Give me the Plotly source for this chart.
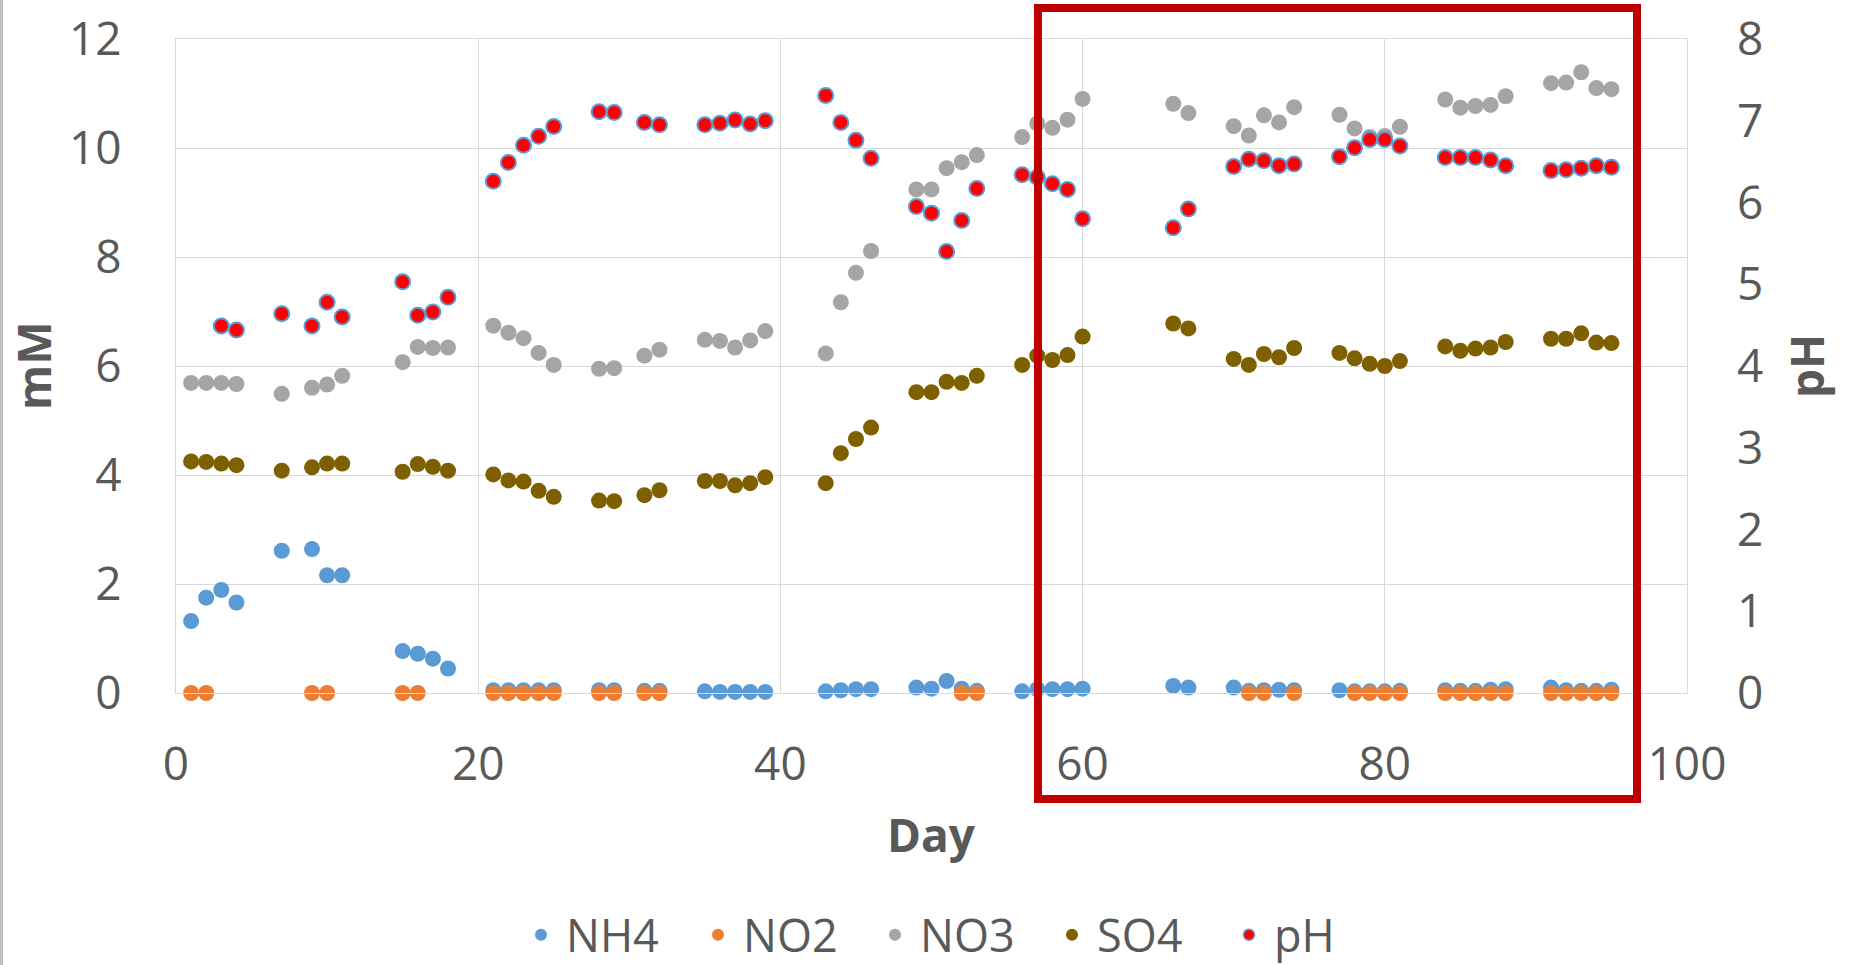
import plotly.graph_objects as go

# Sampling days and measured concentrations (mM) / pH
days = [1, 2, 3, 4, 7, 9, 10, 11, 15, 16, 17, 18, 21, 22, 23, 24, 25, 28, 29, 31, 32,
        35, 36, 37, 38, 39, 43, 44, 45, 46, 49, 50, 51, 52, 53, 56, 57, 58, 59, 60,
        66, 67, 70, 71, 72, 73, 74, 77, 78, 79, 80, 81, 84, 85, 86, 87, 88,
        91, 92, 93, 94, 95]

nh4 = [1.32, 1.75, 1.89, 1.66, 2.61, 2.64, 2.16, 2.16, 0.77, 0.72, 0.63, 0.45,
       0.05, 0.05, 0.05, 0.05, 0.05, 0.05, 0.05, 0.04, 0.04,
       0.03, 0.02, 0.02, 0.02, 0.02, 0.03, 0.05, 0.07, 0.07, 0.10, 0.08, 0.22, 0.08, 0.04,
       0.03, 0.07, 0.07, 0.07, 0.08, 0.13, 0.10, 0.10, 0.04, 0.05, 0.06, 0.05,
       0.05, 0.03, 0.03, 0.03, 0.04, 0.05, 0.04, 0.04, 0.06, 0.07,
       0.10, 0.05, 0.04, 0.04, 0.06]

no3 = [5.69, 5.69, 5.69, 5.67, 5.49, 5.60, 5.66, 5.82, 6.07, 6.35, 6.33, 6.34,
       6.74, 6.61, 6.51, 6.24, 6.02, 5.95, 5.96, 6.19, 6.30,
       6.48, 6.46, 6.34, 6.47, 6.64, 6.23, 7.17, 7.71, 8.11, 9.24, 9.24, 9.63, 9.74, 9.87,
       10.20, 10.45, 10.37, 10.52, 10.90, 10.81, 10.64, 10.40, 10.23, 10.60, 10.47, 10.75,
       10.61, 10.36, 10.20, 10.22, 10.39, 10.89, 10.74, 10.77, 10.79, 10.95,
       11.19, 11.20, 11.39, 11.10, 11.08]

so4 = [4.25, 4.24, 4.21, 4.18, 4.08, 4.14, 4.21, 4.21, 4.06, 4.20, 4.15, 4.08,
       4.01, 3.90, 3.88, 3.71, 3.60, 3.53, 3.52, 3.63, 3.72,
       3.89, 3.89, 3.81, 3.85, 3.96, 3.85, 4.40, 4.66, 4.87, 5.52, 5.52, 5.71, 5.69, 5.82,
       6.02, 6.19, 6.11, 6.20, 6.54, 6.78, 6.69, 6.13, 6.02, 6.22, 6.16, 6.33,
       6.24, 6.14, 6.04, 6.00, 6.09, 6.36, 6.28, 6.32, 6.34, 6.44,
       6.50, 6.50, 6.60, 6.43, 6.42]

no2_days = [1, 2, 9, 10, 15, 16, 21, 22, 23, 24, 25, 28, 29, 31, 32, 52, 53,
            71, 72, 74, 78, 79, 80, 81, 84, 85, 86, 87, 88, 91, 92, 93, 94, 95]
no2 = [0.0] * len(no2_days)

ph_days = [3, 4, 7, 9, 10, 11, 15, 16, 17, 18, 21, 22, 23, 24, 25, 28, 29, 31, 32,
           35, 36, 37, 38, 39, 43, 44, 45, 46, 49, 50, 51, 52, 53, 56, 57, 58, 59, 60,
           66, 67, 70, 71, 72, 73, 74, 77, 78, 79, 80, 81, 84, 85, 86, 87, 88,
           91, 92, 93, 94, 95]
ph = [4.49, 4.44, 4.64, 4.49, 4.78, 4.60, 5.03, 4.62, 4.66, 4.84,
      6.26, 6.49, 6.70, 6.81, 6.93, 7.11, 7.10, 6.98, 6.95,
      6.95, 6.97, 7.01, 6.96, 7.00, 7.31, 6.98, 6.76, 6.54, 5.95, 5.87, 5.40, 5.78, 6.17,
      6.34, 6.31, 6.23, 6.16, 5.80, 5.69, 5.92, 6.44, 6.53, 6.51, 6.45, 6.47,
      6.56, 6.67, 6.77, 6.77, 6.69, 6.55, 6.55, 6.55, 6.52, 6.45,
      6.39, 6.40, 6.42, 6.45, 6.43]

x_ticks = [0, 20, 40, 60, 80, 100]
y_ticks = [0, 2, 4, 6, 8, 10, 12]
ph_ticks = [0, 1, 2, 3, 4, 5, 6, 7, 8]

TEXT = "#595959"
GRID = "#D9D9D9"
FONT = "Open Sans"
MS = 16

series = [
    ("NH4", days, nh4, "y", dict(color="#5B9BD5")),
    ("NO2", no2_days, no2, "y", dict(color="#ED7D31")),
    ("NO3", days, no3, "y", dict(color="#A5A5A5")),
    ("SO4", days, so4, "y", dict(color="#7F6000")),
    ("pH", ph_days, ph, "y2", dict(color="#FF0000", line=dict(color="#5B9BD5", width=2))),
]

fig = go.Figure()
for name, xs, ys, yax, mk in series:
    size = 15 if name == "pH" else MS
    fig.add_trace(go.Scatter(x=xs, y=ys, name=name, mode="markers", yaxis=yax,
                             cliponaxis=False, showlegend=False, legendgroup=name,
                             marker=dict(size=size, **mk)))
# legend entries with smaller symbols
for name, xs, ys, yax, mk in series:
    size = 11 if name == "pH" else 12
    mk2 = dict(mk)
    if name == "pH":
        mk2["line"] = dict(color="#5B9BD5", width=1.5)
    fig.add_trace(go.Scatter(x=[None], y=[None], name=name, mode="markers", yaxis=yax,
                             legendgroup=name, showlegend=True,
                             marker=dict(size=size, **mk2)))

W, H = 1849, 965
L, R, T, B = 176, 162, 39, 272
pw, ph_ = W - L - R, H - T - B


def px_x(p):
    return (p - L) / pw


def px_y(p):
    return (H - B - p) / ph_


fig.update_layout(
    width=W, height=H,
    margin=dict(l=L, r=R, t=T, b=B, autoexpand=False),
    paper_bgcolor="white", plot_bgcolor="white",
    font=dict(family=FONT, color=TEXT, size=46),
    showlegend=True,
    legend=dict(orientation="h", x=px_x(516), xanchor="left", y=px_y(935), yanchor="middle",
                font=dict(size=45, color=TEXT, family=FONT), itemsizing="trace",
                itemwidth=40, entrywidth=122, bgcolor="rgba(0,0,0,0)"),
    xaxis=dict(range=[0, 100], tickvals=x_ticks, showgrid=True, gridcolor=GRID,
               gridwidth=1.3, zeroline=False, showline=True, linecolor=GRID,
               linewidth=1.3, mirror=True, ticks="", ticklabelstandoff=31,
               tickfont=dict(size=46, color=TEXT, family=FONT)),
    yaxis=dict(range=[0, 12], tickvals=y_ticks, showgrid=True, gridcolor=GRID,
               gridwidth=1.3, zeroline=False, showline=True, linecolor=GRID,
               linewidth=1.3, mirror=True, ticks="", ticklabelstandoff=44,
               tickfont=dict(size=46, color=TEXT, family=FONT)),
    yaxis2=dict(range=[0, 8], tickvals=ph_ticks, overlaying="y", side="right",
                showgrid=False, zeroline=False, showline=False, ticks="",
                ticklabelstandoff=49,
                tickfont=dict(size=46, color=TEXT, family=FONT)),
    annotations=[
        dict(text="<b>mM</b>", xref="paper", yref="paper", x=px_x(33), y=0.5,
             textangle=-90, showarrow=False, xanchor="center", yanchor="middle",
             font=dict(size=46, color=TEXT, family=FONT)),
        dict(text="<b>pH</b>", xref="paper", yref="paper", x=px_x(1806), y=0.5,
             textangle=-90, showarrow=False, xanchor="center", yanchor="middle",
             font=dict(size=46, color=TEXT, family=FONT)),
        dict(text="<b>Day</b>", xref="paper", yref="paper", x=0.5, y=px_y(834),
             showarrow=False, xanchor="center", yanchor="middle",
             font=dict(size=46, color=TEXT, family=FONT)),
    ],
    shapes=[
        # highlighted period
        dict(type="rect", xref="paper", yref="paper",
             x0=px_x(1038), x1=px_x(1637), y0=px_y(799), y1=px_y(8),
             line=dict(color="#C00000", width=8), fillcolor="rgba(0,0,0,0)",
             layer="above"),
        # thin frame edge at the far left
        dict(type="line", xref="paper", yref="paper",
             x0=px_x(1.5), x1=px_x(1.5), y0=px_y(0), y1=px_y(H),
             line=dict(color="#BFBFBF", width=3)),
    ],
)

fig.write_html("out.html")
